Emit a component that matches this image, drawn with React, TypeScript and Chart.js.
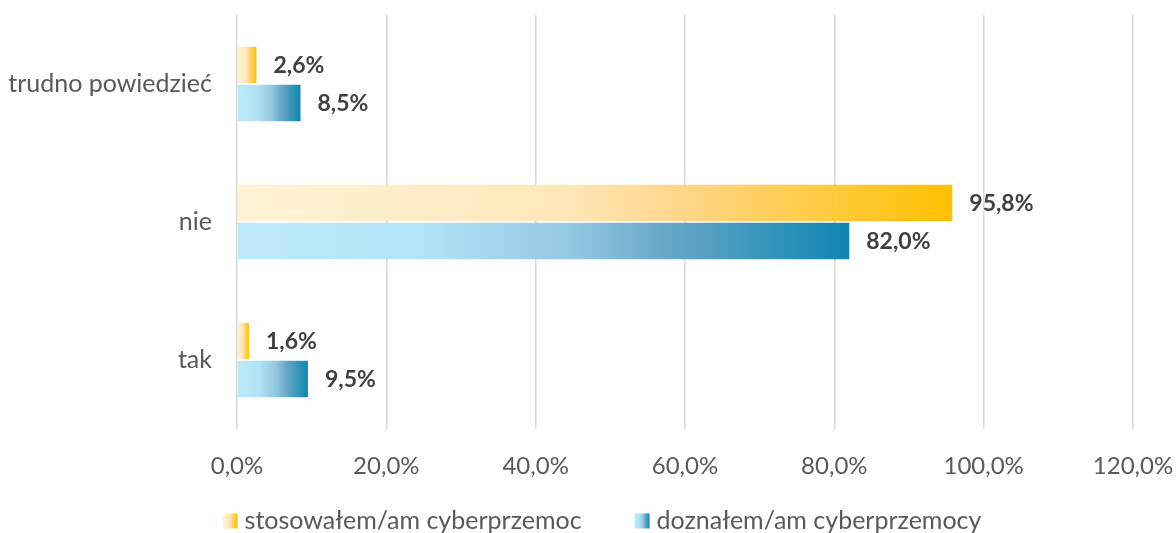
import React, { useEffect, useRef } from "react";
import { Chart, registerables } from "chart.js";

Chart.register(...registerables);

const categories = ["trudno powiedzieć", "nie", "tak"];
const seriesNames = ["stosowałem/am cyberprzemoc", "doznałem/am cyberprzemocy"];
const stosowalem = [2.6, 95.8, 1.6];
const doznalem = [8.5, 82.0, 9.5];
const xTicks = [0, 20, 40, 60, 80, 100, 120];

const orangeStops: [number, string][] = [
  [0, "#FFF3D6"],
  [0.45, "#FEE8BA"],
  [0.62, "#FED68A"],
  [1, "#FFC000"],
];
const blueStops: [number, string][] = [
  [0, "#BEEBFB"],
  [0.3, "#B2E3F6"],
  [0.55, "#93C8E1"],
  [0.7, "#68A7C7"],
  [1, "#0E86B0"],
];

const FONT = "Lato, 'Open Sans', sans-serif";
const FS = 24;
const FS_CAT = 25;
const fmt = (v: number) => v.toFixed(1).replace(".", ",") + "%";

function gradientFor(stops: [number, string][], fallback: string) {
  return (ctx: any) => {
    const chart = ctx.chart;
    if (!chart.chartArea || ctx.type !== "data") return fallback;
    const xs = chart.scales.x;
    const x0 = xs.getPixelForValue(0);
    const x1 = xs.getPixelForValue(ctx.raw);
    const g = chart.ctx.createLinearGradient(x0, 0, Math.max(x1, x0 + 1), 0);
    stops.forEach(([o, col]) => g.addColorStop(o, col));
    return g;
  };
}

const dataLabels = {
  id: "dataLabels",
  afterDatasetsDraw(chart: any) {
    const c = chart.ctx;
    c.save();
    c.font = `bold 23px ${FONT}`;
    c.fillStyle = "#404040";
    c.textAlign = "left";
    c.textBaseline = "middle";
    chart.data.datasets.forEach((ds: any, i: number) => {
      const meta = chart.getDatasetMeta(i);
      meta.data.forEach((el: any, j: number) => {
        c.fillText(fmt(ds.data[j]), el.x + 17, el.y + 1);
      });
    });
    c.restore();
  },
};

const customLegend = {
  id: "customLegend",
  afterDraw(chart: any) {
    const c = chart.ctx;
    c.save();
    c.font = `${FS_CAT}px ${FONT}`;
    c.textBaseline = "middle";
    c.textAlign = "left";
    const stops = [orangeStops, blueStops];
    const box = 15;
    const gapBoxText = 7;
    const gapItems = 53;
    const widths = seriesNames.map((n) => c.measureText(n).width);
    const total = widths.reduce((a: number, w: number) => a + box + gapBoxText + w, 0) + gapItems;
    let x = 602 - total / 2;
    const yc = 521;
    seriesNames.forEach((n, i) => {
      const g = c.createLinearGradient(x, 0, x + box, 0);
      stops[i].forEach(([o, col]) => g.addColorStop(o, col));
      c.fillStyle = g;
      c.fillRect(x, yc - box / 2, box, box);
      x += box + gapBoxText;
      c.fillStyle = "#595959";
      c.fillText(n, x, yc);
      x += widths[i] + gapItems;
    });
    c.restore();
  },
};

export default function App() {
  const ref = useRef<HTMLCanvasElement>(null);
  useEffect(() => {
    document.body.style.margin = "0";
    const chart = new Chart(ref.current!, {
      type: "bar",
      data: {
        labels: categories,
        datasets: [
          {
            label: seriesNames[0],
            data: stosowalem,
            backgroundColor: gradientFor(orangeStops, "#FFC000"),
            categoryPercentage: 0.55,
            barPercentage: 0.96,
          },
          {
            label: seriesNames[1],
            data: doznalem,
            backgroundColor: gradientFor(blueStops, "#0E86B0"),
            categoryPercentage: 0.55,
            barPercentage: 0.96,
          },
        ],
      },
      options: {
        indexAxis: "y",
        animation: false,
        responsive: true,
        maintainAspectRatio: false,
        layout: { padding: { top: 15, right: 43, left: 0, bottom: 44 } },
        scales: {
          x: {
            min: 0,
            max: 120,
            afterBuildTicks: (s: any) => {
              s.ticks = xTicks.map((v) => ({ value: v }));
            },
            afterFit: (s: any) => {
              s.height = 60;
              s.paddingLeft = 0;
              s.paddingRight = 0;
            },
            grid: { color: "#D9D9D9", lineWidth: 1.5, drawTicks: false },
            border: { display: false },
            ticks: {
              padding: 23,
              color: "#595959",
              font: { family: FONT, size: FS },
              callback: (v: any) => fmt(Number(v)),
            },
          },
          y: {
            afterFit: (s: any) => {
              s.width = 237;
              s.paddingTop = 0;
              s.paddingBottom = 0;
            },
            grid: { display: false, drawTicks: false },
            border: { display: false },
            ticks: {
              padding: 25,
              color: "#595959",
              font: { family: FONT, size: FS_CAT },
            },
          },
        },
        plugins: {
          legend: { display: false },
          tooltip: { enabled: false },
        },
      },
      plugins: [dataLabels, customLegend],
    } as any);
    return () => chart.destroy();
  }, []);
  return (
    <div style={{ width: 1176, height: 533, position: "relative" }}>
      <canvas ref={ref} />
    </div>
  );
}
